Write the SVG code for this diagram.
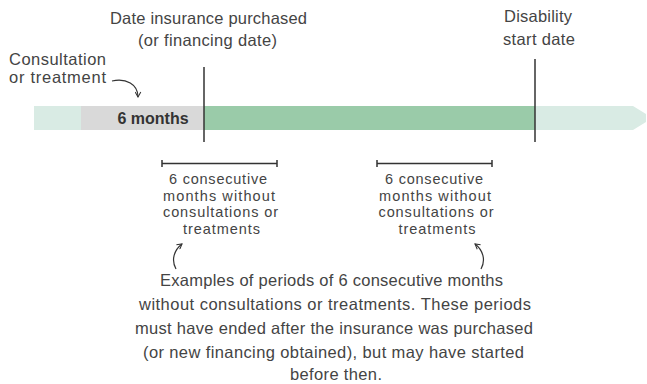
<svg xmlns="http://www.w3.org/2000/svg" width="647" height="384" viewBox="0 0 647 384">
<defs>
<style>
text{font-family:"Liberation Sans",Arial,sans-serif;fill:#444;}
.t15{font-size:16.5px;}
.t13{font-size:14.5px;}
.ln{stroke:#333;stroke-width:1.5;fill:none;}
.cv{stroke:#333;stroke-width:1.2;fill:none;}
</style>
<marker id="ah" viewBox="0 0 10 10" refX="8" refY="5" markerWidth="7" markerHeight="7" orient="auto-start-reverse" markerUnits="userSpaceOnUse">
<path d="M1,1 L8,5 L1,9" fill="none" stroke="#333" stroke-width="1.5"/>
</marker>
</defs>
<rect width="647" height="384" fill="#fff"/>
<g id="timeline">
<path d="M34,106 H633 L646,114 V122 L633,130 H34 Z" fill="#d9ebe4"/>
<rect x="81" y="106" width="123" height="24" fill="#d9d9d9"/>
<rect x="204" y="106" width="331" height="24" fill="#9acba9"/>
<text x="153" y="124" text-anchor="middle" font-weight="bold" font-size="16" style="fill:#333">6 months</text>
</g>
<g id="purchase">
<text class="t15" x="208.5" y="24" text-anchor="middle" textLength="197" lengthAdjust="spacing">Date insurance purchased</text>
<text class="t15" x="207.5" y="46" text-anchor="middle" textLength="139" lengthAdjust="spacing">(or financing date)</text>
</g>
<g id="disability">
<text class="t15" x="538" y="22" text-anchor="middle" textLength="68" lengthAdjust="spacing">Disability</text>
<text class="t15" x="539" y="45" text-anchor="middle" textLength="72" lengthAdjust="spacing">start date</text>
</g>
<g id="consultation">
<text class="t15" x="9" y="65" textLength="97" lengthAdjust="spacing">Consultation</text>
<text class="t15" x="9" y="83" textLength="97" lengthAdjust="spacing">or treatment</text>
</g>
<g id="period1">
<text class="t13" x="218" y="184" text-anchor="middle" textLength="98" lengthAdjust="spacing">6 consecutive</text>
<text class="t13" x="219" y="200.5" text-anchor="middle" textLength="112" lengthAdjust="spacing">months without</text>
<text class="t13" x="220.5" y="217" text-anchor="middle" textLength="115" lengthAdjust="spacing">consultations or</text>
<text class="t13" x="221.5" y="233.5" text-anchor="middle" textLength="77" lengthAdjust="spacing">treatments</text>
</g>
<g id="period2">
<text class="t13" x="434" y="184" text-anchor="middle" textLength="98" lengthAdjust="spacing">6 consecutive</text>
<text class="t13" x="435" y="200.5" text-anchor="middle" textLength="112" lengthAdjust="spacing">months without</text>
<text class="t13" x="436" y="217" text-anchor="middle" textLength="115" lengthAdjust="spacing">consultations or</text>
<text class="t13" x="437" y="233.5" text-anchor="middle" textLength="77" lengthAdjust="spacing">treatments</text>
</g>
<g id="note">
<text class="t15" x="331.5" y="286" text-anchor="middle" textLength="343" lengthAdjust="spacing">Examples of periods of 6 consecutive months</text>
<text class="t15" x="335" y="310" text-anchor="middle" textLength="392" lengthAdjust="spacing">without consultations or treatments. These periods</text>
<text class="t15" x="334" y="334" text-anchor="middle" textLength="398" lengthAdjust="spacing">must have ended after the insurance was purchased</text>
<text class="t15" x="333.5" y="357.5" text-anchor="middle" textLength="381" lengthAdjust="spacing">(or new financing obtained), but may have started</text>
<text class="t15" x="336" y="380" text-anchor="middle" textLength="92" lengthAdjust="spacing">before then.</text>
</g>
<g id="connectors">
<line class="ln" x1="204" y1="67" x2="204" y2="142"/>
<line class="ln" x1="535" y1="59" x2="535" y2="142"/>
<path class="ln" d="M162,160 V167 M162,163.5 H277 M277,160 V167"/>
<path class="ln" d="M377,160 V167 M377,163.5 H492 M492,160 V167"/>
<path class="cv" d="M112,81 C126,78 138,84 138,97" marker-end="url(#ah)"/>
<path class="cv" d="M176,269 C171,260 174,250 182,244" marker-end="url(#ah)"/>
<path class="cv" d="M481,269 C486,260 483,250 475,244" marker-end="url(#ah)"/>
</g>
</svg>
